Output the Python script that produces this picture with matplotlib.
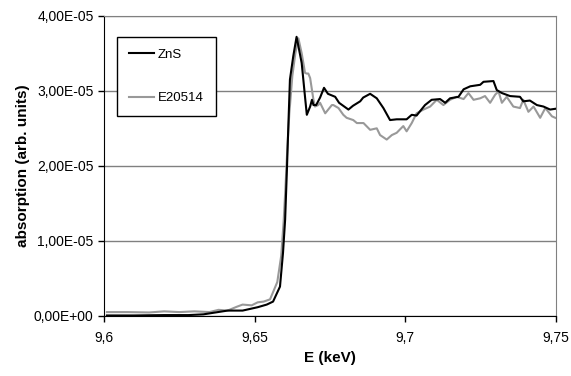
import matplotlib
matplotlib.use('Agg')
import matplotlib.pyplot as plt
from matplotlib.ticker import FuncFormatter

plt.rcParams['font.family'] = ['Liberation Sans', 'DejaVu Sans']

# ZnS reference (energy in keV, absorption in units of 1e-6)
e_zns = [9.6010, 9.6100, 9.6200, 9.6280, 9.6330, 9.6410, 9.6460, 9.6510, 9.6540,
         9.6561, 9.6584, 9.6594, 9.6601, 9.6607, 9.6611, 9.6617, 9.6628, 9.6639,
         9.6656, 9.6667, 9.6673, 9.6684, 9.6690, 9.6695, 9.6704, 9.6717, 9.6730,
         9.6743, 9.6767, 9.6780, 9.6811, 9.6826, 9.6850, 9.6860, 9.6883, 9.6905,
         9.6927, 9.6949, 9.6971, 9.7004, 9.7021, 9.7037, 9.7065, 9.7087, 9.7115,
         9.7132, 9.7148, 9.7176, 9.7193, 9.7215, 9.7248, 9.7259, 9.7292, 9.7303,
         9.7320, 9.7347, 9.7380, 9.7391, 9.7413, 9.7436, 9.7458, 9.7480, 9.7497]
a_zns = [0.05, 0.05, 0.1, 0.1, 0.2, 0.7, 0.7, 1.15, 1.5,
         1.9, 3.9, 8.4, 12.8, 19.5, 24.5, 31.5, 34.6, 37.2,
         33.7, 29.2, 26.8, 27.9, 28.8, 28.1, 28.1, 29.1, 30.4,
         29.6, 29.2, 28.4, 27.5, 28.0, 28.6, 29.1, 29.6, 29.0,
         27.7, 26.1, 26.2, 26.2, 26.8, 26.7, 28.1, 28.8, 28.9,
         28.4, 29.0, 29.2, 30.2, 30.6, 30.8, 31.2, 31.3, 30.1,
         29.7, 29.3, 29.2, 28.6, 28.7, 28.1, 27.9, 27.5, 27.6]

# E20514 sample
e_smp = [9.6010, 9.6080, 9.6150, 9.6200, 9.6250, 9.6300, 9.6350, 9.6380, 9.6410,
         9.6440, 9.6460, 9.6490, 9.6510, 9.6530, 9.6551, 9.6575, 9.6588, 9.6596,
         9.6602, 9.6608, 9.6615, 9.6625, 9.6635, 9.6645, 9.6656, 9.6667, 9.6672,
         9.6678, 9.6684, 9.6695, 9.6700, 9.6711, 9.6717, 9.6734, 9.6744, 9.6756,
         9.6761, 9.6778, 9.6794, 9.6805, 9.6827, 9.6839, 9.6861, 9.6883, 9.6905,
         9.6916, 9.6938, 9.6955, 9.6971, 9.6993, 9.7004, 9.7021, 9.7037, 9.7060,
         9.7082, 9.7104, 9.7126, 9.7148, 9.7170, 9.7193, 9.7209, 9.7226, 9.7248,
         9.7264, 9.7281, 9.7298, 9.7309, 9.7320, 9.7336, 9.7358, 9.7380, 9.7391,
         9.7408, 9.7425, 9.7447, 9.7464, 9.7486, 9.7497]
a_smp = [0.5, 0.5, 0.45, 0.6, 0.5, 0.6, 0.5, 0.8, 0.7,
         1.2, 1.5, 1.4, 1.8, 1.9, 2.2, 4.5, 8.0, 12.5,
         17.0, 22.0, 27.0, 32.0, 35.0, 37.0, 35.0, 32.4, 32.3,
         32.3, 31.7, 28.8, 27.9, 28.1, 28.4, 27.0, 27.5, 28.1,
         28.1, 27.7, 26.8, 26.4, 26.1, 25.7, 25.7, 24.8, 25.0,
         24.1, 23.5, 24.1, 24.4, 25.3, 24.6, 25.7, 27.0, 27.5,
         27.9, 28.8, 28.1, 28.8, 29.2, 28.9, 29.7, 28.8, 29.0,
         29.3, 28.4, 29.5, 29.9, 28.4, 29.2, 27.9, 27.7, 28.8,
         27.2, 27.9, 26.4, 27.7, 26.6, 26.4]

fig = plt.figure(figsize=(5.71, 3.76), dpi=100)
ax = fig.add_axes([0.182, 0.160, 0.792, 0.798])

ax.plot(e_zns, [v * 1e-6 for v in a_zns], color='black', lw=1.5, label='ZnS', zorder=3)
ax.plot(e_smp, [v * 1e-6 for v in a_smp], color='#999999', lw=1.5, label='E20514', zorder=2)

ax.set_xlim(9.6, 9.75)
ax.set_ylim(0, 4e-5)
ax.set_xticks([9.6, 9.65, 9.7, 9.75])
ax.set_yticks([0, 1e-5, 2e-5, 3e-5, 4e-5])
ax.xaxis.set_major_formatter(FuncFormatter(lambda v, p: ('%g' % round(v, 3)).replace('.', ',')))
ax.yaxis.set_major_formatter(FuncFormatter(lambda v, p: ('%.2E' % v).replace('.', ',')))
ax.tick_params(direction='out', length=4, width=1, labelsize=10, colors='black')
ax.tick_params(axis='x', pad=7)

ax.yaxis.grid(True, color='#808080', lw=1)
ax.set_axisbelow(True)
for s in ['top', 'right']:
    ax.spines[s].set_color('#808080')
for s in ['left', 'bottom']:
    ax.spines[s].set_color('black')

ax.set_xlabel('E (keV)', fontsize=11, fontweight='bold', labelpad=4)
ax.set_ylabel('absorption (arb. units)', fontsize=11, fontweight='bold', labelpad=3)

leg = ax.legend(loc='upper left', bbox_to_anchor=(0.029, 0.93), fontsize=9.5,
                frameon=True, fancybox=False, edgecolor='black', framealpha=1,
                labelspacing=2.35, handlelength=1.9, borderpad=0.9, handletextpad=0.3,
                borderaxespad=0)
leg.get_frame().set_linewidth(1)

fig.savefig('out.png', dpi=100)
